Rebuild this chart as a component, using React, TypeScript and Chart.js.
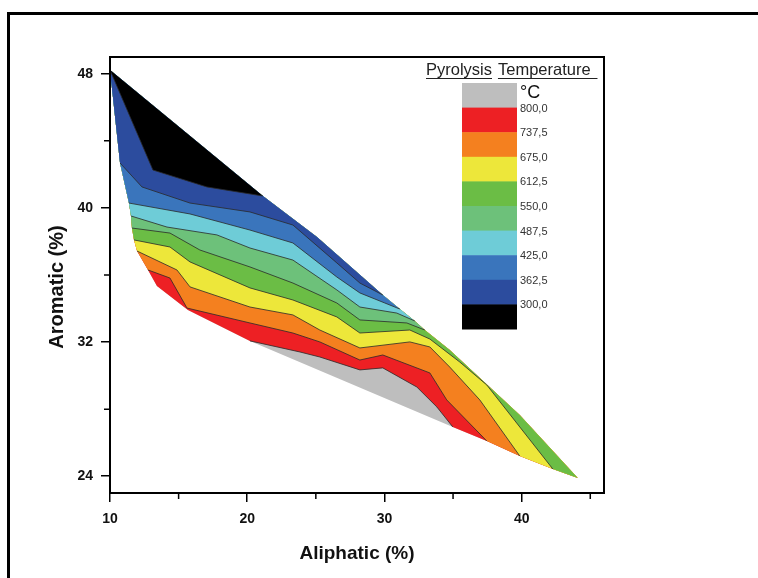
import React, { useEffect, useRef } from 'react';
import { Chart, registerables } from 'chart.js';

Chart.register(...registerables);

type Pt = [number, number];

// ---------- axes ----------
const X_RANGE: Pt = [10, 46];
const Y_RANGE: Pt = [23, 49];
const X_MAJOR_TICKS = [10, 20, 30, 40];
const X_MINOR_TICKS = [15, 25, 35, 45];
const Y_MAJOR_TICKS = [24, 32, 40, 48];
const Y_MINOR_TICKS = [28, 36, 44];

const X_TITLE = 'Aliphatic (%)';
const Y_TITLE = 'Aromatic (%)';
const LEGEND_TITLE_WORDS = ['Pyrolysis', 'Temperature'];
const LEGEND_UNIT = '°C';

// contour levels (°C), from highest to lowest
const LEVEL_LABELS = ['800,0', '737,5', '675,0', '612,5', '550,0', '487,5', '425,0', '362,5', '300,0'];
// band colours: >800, 737.5-800, ..., <300
const BAND_COLORS = ['#BEBEBE', '#ED2024', '#F4801F', '#EDE73A', '#6BBD45', '#6DC17A', '#6ECCD7', '#3A75BC', '#2C4C9E', '#000000'];

// data-domain outline: apex -> left edge -> lower edge -> tip -> upper edge
const OUTLINE: Pt[] = [
  [10.0, 48.22],
  [10.73, 42.68],
  [11.38, 40.29],
  [11.53, 39.52],
  [11.6, 38.8],
  [11.75, 38.09],
  [11.97, 37.43],
  [12.77, 36.3],
  [13.42, 35.35],
  [15.68, 33.91],
  [20.2, 32.07],
  [34.98, 26.94],
  [37.46, 26.1],
  [39.86, 25.21],
  [42.27, 24.43],
  [44.09, 23.9],
  [39.86, 27.65],
  [34.76, 31.53],
  [32.94, 32.72],
  [32.21, 33.26],
  [31.12, 33.97],
  [29.88, 34.81],
  [25.08, 38.27],
  [21.14, 40.71],
];

// contour lines (Aliphatic %, Aromatic %)
const C800: Pt[] = [[20.2, 32.07], [23.84, 31.41], [25.29, 31.11], [28.21, 30.34], [29.88, 30.46], [32.36, 29.32], [33.82, 28.13], [34.98, 26.94]];
const C737: Pt[] = [[12.77, 36.3], [14.37, 35.82], [15.61, 34.03], [20.2, 33.14], [23.33, 32.54], [25.29, 32.01], [28.21, 30.93], [29.88, 31.23], [33.31, 30.16], [34.54, 28.55], [37.46, 26.1]];
const C675: Pt[] = [[11.97, 37.43], [14.88, 36.3], [15.83, 35.29], [20.2, 34.09], [23.33, 33.62], [25.29, 32.72], [28.21, 31.65], [31.85, 32.01], [33.31, 31.71], [34.76, 30.51], [36.95, 28.55], [39.86, 25.21]];
const C612: Pt[] = [[11.75, 38.09], [14.37, 37.67], [15.83, 36.78], [20.2, 35.23], [23.33, 34.51], [26.53, 33.5], [28.21, 32.54], [31.85, 32.72], [33.31, 32.18], [35.49, 30.81], [37.46, 29.44], [42.27, 24.43]];
const C550: Pt[] = [[11.6, 38.8], [14.37, 38.5], [16.55, 37.49], [20.2, 36.48], [23.33, 35.52], [26.53, 34.33], [28.21, 33.32], [31.63, 33.14], [32.94, 32.72]];
const C487: Pt[] = [[11.53, 39.52], [14.15, 38.86], [17.79, 38.39], [20.2, 37.61], [23.33, 36.89], [26.53, 35.11], [28.21, 34.09], [30.9, 33.73], [32.21, 33.26]];
const C425: Pt[] = [[11.38, 40.29], [15.83, 39.64], [20.2, 38.68], [23.33, 37.91], [26.53, 35.88], [28.21, 34.93], [30.03, 34.33], [31.12, 33.97]];
const C362: Pt[] = [[10.73, 42.68], [12.33, 41.25], [15.83, 40.29], [20.2, 39.76], [23.33, 38.98], [26.53, 36.72], [28.21, 35.52], [29.88, 34.81]];
const C300: Pt[] = [[10.0, 48.22], [13.13, 42.26], [17.06, 41.25], [21.14, 40.71]];

const CONTOURS = [C800, C737, C675, C612, C550, C487, C425, C362, C300];

// ---------- helpers ----------
function nearestOutlineIndex(p: Pt): number {
  let best = 0;
  let bd = Infinity;
  OUTLINE.forEach((q, i) => {
    const d = (q[0] - p[0]) ** 2 + (q[1] - p[1]) ** 2;
    if (d < bd) { bd = d; best = i; }
  });
  return best;
}

// region below a contour level = contour + outline path back round the apex
function bandPolygon(c: Pt[]): Pt[] {
  const n = OUTLINE.length;
  const s = nearestOutlineIndex(c[0]);
  const e = nearestOutlineIndex(c[c.length - 1]);
  const pts: Pt[] = [...c];
  for (let i = (e + 1) % n; i !== s; i = (i + 1) % n) pts.push(OUTLINE[i]);
  pts.push(OUTLINE[s]);
  return pts;
}

const toXY = (pts: Pt[]) => pts.map(([x, y]) => ({ x, y }));

const FONT = "'Liberation Sans', Arial, Helvetica, sans-serif";

const decorPlugin = {
  id: 'decor',
  afterDraw(chart: any) {
    const { ctx, chartArea: a, scales } = chart;
    const xs = scales.x;
    const ys = scales.y;
    ctx.save();
    // frame
    ctx.strokeStyle = '#000';
    ctx.lineWidth = 2;
    ctx.strokeRect(a.left, a.top, a.right - a.left, a.bottom - a.top);
    // minor ticks
    ctx.lineWidth = 1.5;
    ctx.beginPath();
    X_MINOR_TICKS.forEach((v) => {
      const px = xs.getPixelForValue(v);
      ctx.moveTo(px, a.bottom);
      ctx.lineTo(px, a.bottom + 6);
    });
    Y_MINOR_TICKS.forEach((v) => {
      const py = ys.getPixelForValue(v);
      ctx.moveTo(a.left, py);
      ctx.lineTo(a.left - 6, py);
    });
    ctx.stroke();

    // axis titles
    ctx.fillStyle = '#111';
    ctx.textAlign = 'center';
    ctx.textBaseline = 'middle';
    ctx.font = `bold 19px ${FONT}`;
    ctx.fillText(X_TITLE, (a.left + a.right) / 2, 554);
    ctx.save();
    ctx.translate(57, 287);
    ctx.rotate(-Math.PI / 2);
    ctx.font = `bold 20px ${FONT}`;
    ctx.fillText(Y_TITLE, 0, 0);
    ctx.restore();

    // legend title (underlined words)
    ctx.font = `16.5px ${FONT}`;
    ctx.textAlign = 'left';
    ctx.textBaseline = 'alphabetic';
    ctx.fillStyle = '#222';
    ctx.strokeStyle = '#222';
    ctx.lineWidth = 1;
    let tx = 426;
    const base = 75;
    const spaceW = ctx.measureText(' ').width;
    LEGEND_TITLE_WORDS.forEach((w, i) => {
      ctx.fillText(w, tx, base);
      const ww = ctx.measureText(w).width + (i === LEGEND_TITLE_WORDS.length - 1 ? spaceW * 1.5 : 0);
      ctx.beginPath();
      ctx.moveTo(tx, base + 3.5);
      ctx.lineTo(tx + ww, base + 3.5);
      ctx.stroke();
      tx += ctx.measureText(w).width + spaceW * 1.3;
    });

    // colour bar
    const barX = 462;
    const barW = 55;
    const barTop = 83;
    const boxH = 24.6;
    BAND_COLORS.forEach((c, i) => {
      ctx.fillStyle = c;
      ctx.fillRect(barX, barTop + i * boxH, barW, boxH + 0.5);
    });
    ctx.fillStyle = '#111';
    ctx.font = `18px ${FONT}`;
    ctx.fillText(LEGEND_UNIT, 520, 98);
    ctx.font = `11px ${FONT}`;
    ctx.fillStyle = '#333';
    ctx.textBaseline = 'middle';
    LEVEL_LABELS.forEach((t, i) => {
      ctx.fillText(t, 520, barTop + (i + 1) * boxH + 1);
    });
    ctx.restore();
  },
};

export default function App() {
  const ref = useRef<HTMLCanvasElement>(null);

  useEffect(() => {
    const canvas = ref.current;
    if (!canvas) return;
    const fillStyle = {
      showLine: true,
      fill: 'shape',
      borderWidth: 0,
      borderColor: 'rgba(0,0,0,0)',
      pointRadius: 0,
      pointHoverRadius: 0,
      tension: 0,
    };
    const datasets: any[] = [];
    datasets.push({ ...fillStyle, data: toXY([...OUTLINE, OUTLINE[0]]), backgroundColor: BAND_COLORS[0], order: 100 });
    CONTOURS.forEach((c, k) => {
      datasets.push({ ...fillStyle, data: toXY(bandPolygon(c)), backgroundColor: BAND_COLORS[k + 1], order: 99 - k });
    });
    CONTOURS.forEach((c) => {
      datasets.push({
        data: toXY(c),
        showLine: true,
        fill: false,
        borderColor: '#2a2a2a',
        borderWidth: 0.8,
        pointRadius: 0,
        pointHoverRadius: 0,
        tension: 0,
        order: 0,
      });
    });

    const tickFont = { family: FONT, size: 14, weight: 'bold' as const };
    const chart = new Chart(canvas, {
      type: 'scatter',
      data: { datasets },
      plugins: [decorPlugin],
      options: {
        animation: false,
        responsive: false,
        devicePixelRatio: 1,
        events: [],
        layout: { padding: { top: 57, right: 154, bottom: 0, left: 0 } },
        plugins: { legend: { display: false }, tooltip: { enabled: false } },
        scales: {
          x: {
            type: 'linear',
            min: X_RANGE[0],
            max: X_RANGE[1],
            afterBuildTicks: (s: any) => { s.ticks = X_MAJOR_TICKS.map((v) => ({ value: v })); },
            afterFit: (s: any) => { s.height = 85; },
            ticks: { font: tickFont, color: '#111', padding: 9 },
            grid: { drawOnChartArea: false, drawTicks: true, tickLength: 9, tickColor: '#000', tickWidth: 1.5, lineWidth: 1.5 },
            border: { display: false },
          },
          y: {
            type: 'linear',
            min: Y_RANGE[0],
            max: Y_RANGE[1],
            afterBuildTicks: (s: any) => { s.ticks = Y_MAJOR_TICKS.map((v) => ({ value: v })); },
            afterFit: (s: any) => { s.width = 110; },
            ticks: { font: tickFont, color: '#111', padding: 8 },
            grid: { drawOnChartArea: false, drawTicks: true, tickLength: 9, tickColor: '#000', tickWidth: 1.5, lineWidth: 1.5 },
            border: { display: false },
          },
        },
      } as any,
    });
    return () => chart.destroy();
  }, []);

  return (
    <div style={{ position: 'fixed', left: 0, top: 0, width: 758, height: 578, background: '#fff', overflow: 'hidden' }}>
      <canvas ref={ref} width={758} height={578} style={{ display: 'block', width: 758, height: 578 }} />
      <div
        style={{
          position: 'absolute',
          left: 7,
          top: 12,
          width: 900,
          height: 900,
          borderLeft: '3px solid #000',
          borderTop: '3px solid #000',
          pointerEvents: 'none',
        }}
      />
    </div>
  );
}
